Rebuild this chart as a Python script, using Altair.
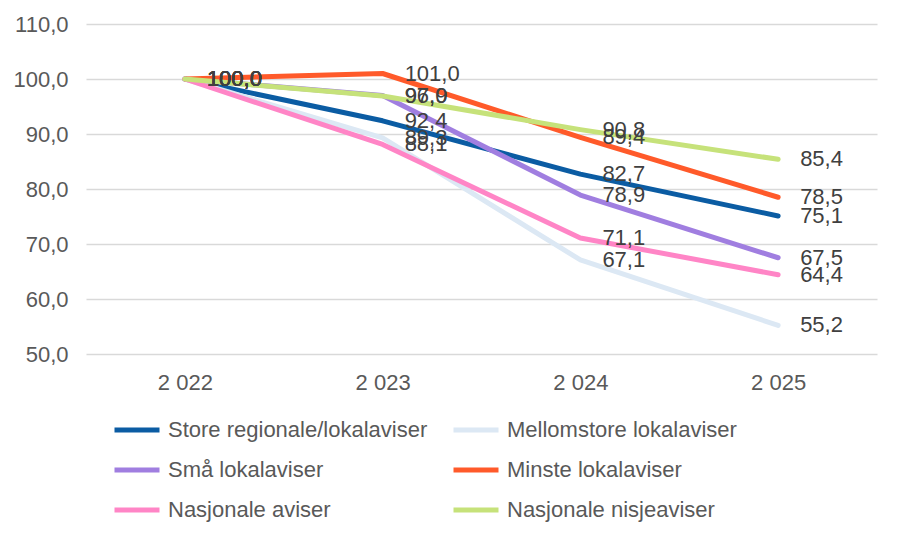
import altair as alt
import pandas as pd

years = ["2 022", "2 023", "2 024", "2 025"]
series = [
    "Store regionale/lokalaviser",
    "Mellomstore lokalaviser",
    "Små lokalaviser",
    "Minste lokalaviser",
    "Nasjonale aviser",
    "Nasjonale nisjeaviser",
]
colors = ["#0B5CA3", "#DCE8F4", "#A07EE0", "#FF5A2A", "#FF85C6", "#C6E27A"]

store = [100.0, 92.4, 82.7, 75.1]
mellomstore = [100.0, 89.3, 67.1, 55.2]
smaa = [100.0, 97.0, 78.9, 67.5]
minste = [100.0, 101.0, 89.4, 78.5]
nasjonale = [100.0, 88.1, 71.1, 64.4]
nisje = [100.0, 96.9, 90.8, 85.4]

rows = []
for name, vals in zip(series, [store, mellomstore, smaa, minste, nasjonale, nisje]):
    for y, v in zip(years, vals):
        rows.append({"År": y, "Serie": name, "Verdi": v, "order": series.index(name)})
df = pd.DataFrame(rows)

font = "Liberation Sans"

base = alt.Chart(df).encode(
    x=alt.X("År:O", sort=years, title=None,
            scale=alt.Scale(paddingOuter=0.5, paddingInner=0),
            axis=alt.Axis(labelAngle=0, ticks=False, domain=False, labelPadding=18,
                          labelFontSize=22, labelColor="#595959", labelFont=font)),
    y=alt.Y("Verdi:Q", title=None, scale=alt.Scale(domain=[50, 110], nice=False),
            axis=alt.Axis(values=[50, 60, 70, 80, 90, 100, 110], ticks=False, domain=False,
                          labelPadding=18, labelFontSize=22, labelColor="#595959", labelFont=font,
                          labelExpr="replace(format(datum.value, '.1f'), '.', ',')",
                          gridColor="#D9D9D9", gridWidth=1.5)),
)

lines = base.mark_line(strokeWidth=5, strokeCap="round", strokeJoin="round").encode(
    color=alt.Color("Serie:N", sort=series,
                    scale=alt.Scale(domain=series, range=colors),
                    legend=alt.Legend(title=None, orient="none", legendX=26, legendY=381,
                                      direction="horizontal", columns=2, columnPadding=15,
                                      rowPadding=4,
                                      symbolType="stroke", symbolSize=2025, symbolStrokeWidth=5,
                                      labelFontSize=22, labelColor="#595959", labelFont=font,
                                      labelLimit=400, labelOffset=6, padding=0)),
    detail="Serie:N",
    order="order:Q",
)

labels = base.mark_text(align="left", baseline="middle", dx=22, fontSize=22,
                        color="#404040", font=font).transform_calculate(
    lbl="replace(format(datum.Verdi, '.1f'), '.', ',')"
).encode(text="lbl:N")

chart = (lines + labels).properties(
    width=791, height=330,
    autosize=alt.AutoSizeParams(type="none"),
    padding={"left": 78, "top": 16, "right": 15, "bottom": 170},
).configure_view(stroke=None)

chart.save("out.html", embed_options={"renderer": "svg", "actions": False})
